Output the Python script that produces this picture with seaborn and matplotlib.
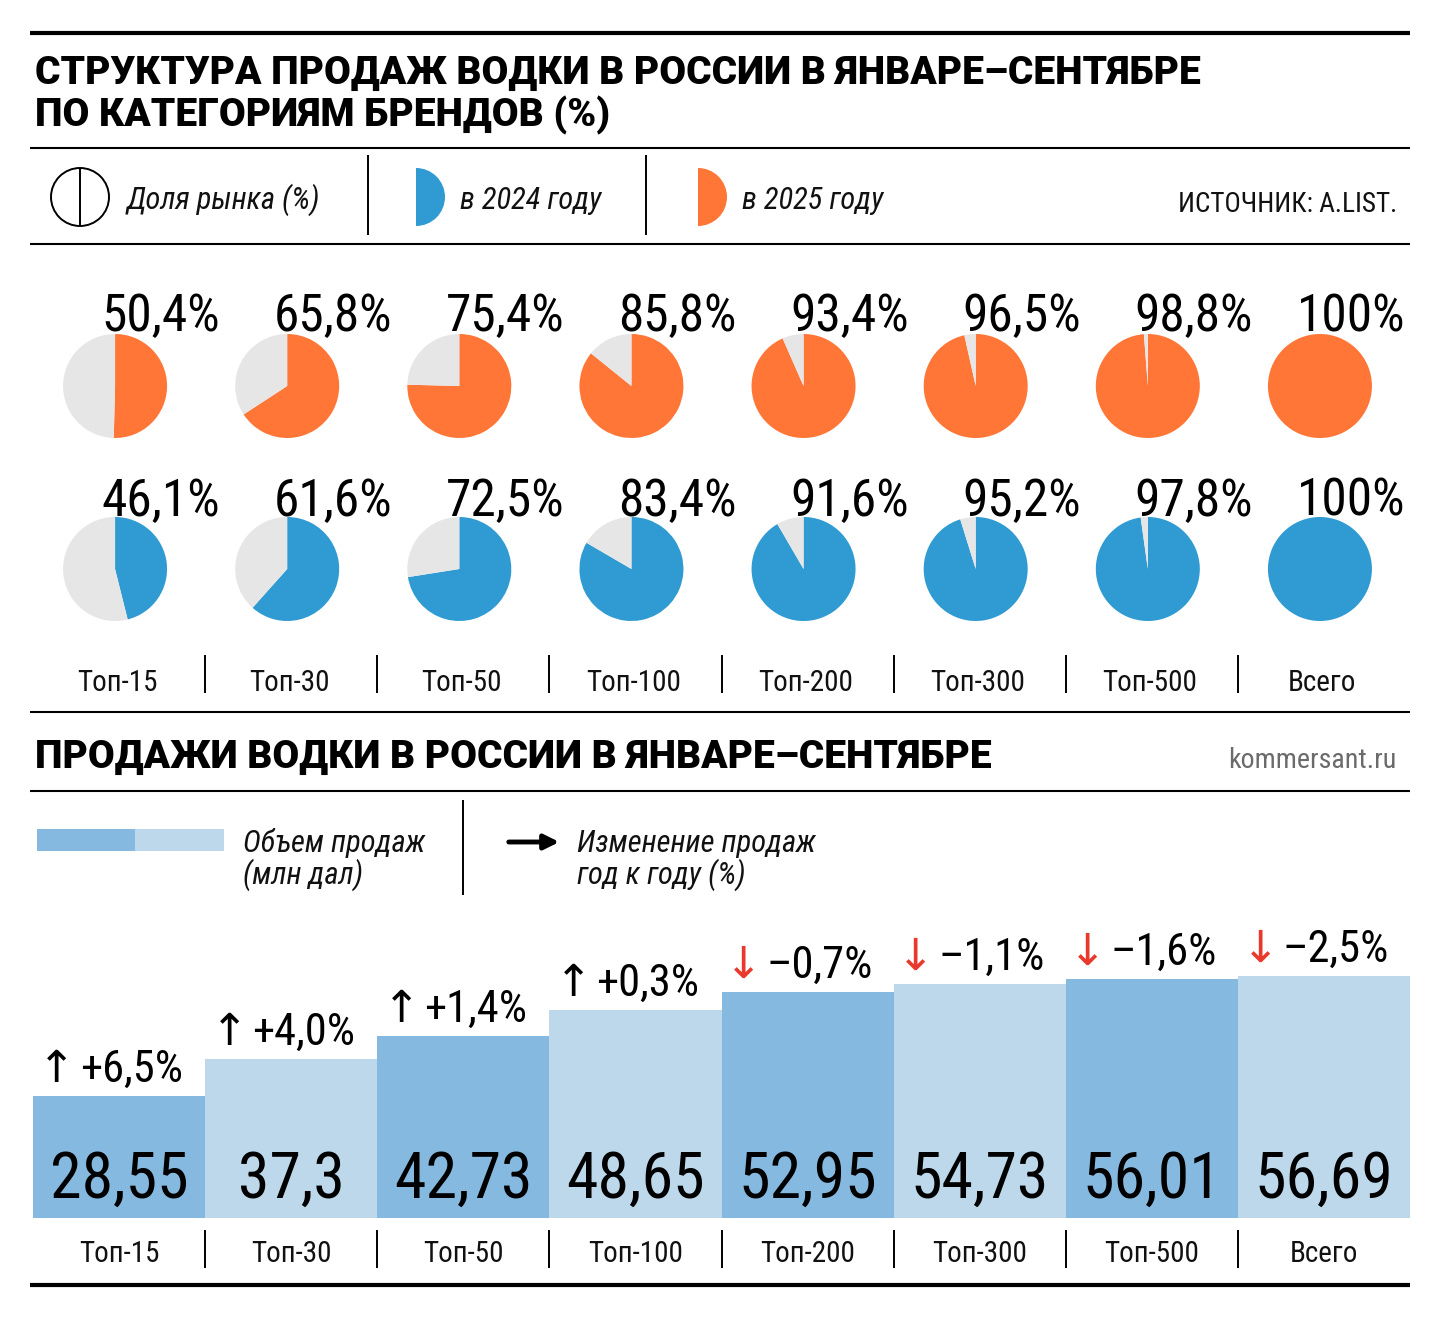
import pandas as pd
import seaborn as sns
import matplotlib.pyplot as plt
from matplotlib import font_manager as fm
from matplotlib.patches import Wedge, Circle, Rectangle

categories = ['Топ-15', 'Топ-30', 'Топ-50', 'Топ-100', 'Топ-200', 'Топ-300', 'Топ-500', 'Всего']
share_2025 = [50.4, 65.8, 75.4, 85.8, 93.4, 96.5, 98.8, 100]
share_2024 = [46.1, 61.6, 72.5, 83.4, 91.6, 95.2, 97.8, 100]
volume = [28.55, 37.3, 42.73, 48.65, 52.95, 54.73, 56.01, 56.69]
change = [6.5, 4.0, 1.4, 0.3, -0.7, -1.1, -1.6, -2.5]

ORANGE = '#ff7636'
BLUE = '#2f9bd2'
GREY = '#e6e6e6'
BAR_DARK = '#85b9e0'
BAR_LIGHT = '#bcd8ea'
RED = '#e8392c'

sns.set_theme(style='white')

names = {f.name for f in fm.fontManager.ttflist}
def pick(*cands):
    for c in cands:
        if c in names:
            return c
    return 'DejaVu Sans'

NARROW = pick('Roboto Condensed', 'Liberation Sans Narrow', 'Open Sans Condensed', 'DejaVu Sans')
HEAVY = pick('Roboto', 'Inter', 'Lato', 'DejaVu Sans')
plt.rcParams['font.family'] = [NARROW, 'DejaVu Sans']
if NARROW == 'DejaVu Sans':
    plt.rcParams['font.stretch'] = 'condensed'

W, H = 1440, 1319
fig = plt.figure(figsize=(W / 100, H / 100), dpi=100)
fig.patch.set_facecolor('white')

# overlay in pixel units (y down) for rules, legends and titles
deco = fig.add_axes([0, 0, 1, 1])
deco.set_xlim(0, W)
deco.set_ylim(H, 0)
deco.axis('off')
deco.set_zorder(5)

def hline(y, lw):
    deco.plot([30, 1410], [y, y], color='black', lw=lw, solid_capstyle='butt')

def vline(x, y0, y1):
    deco.plot([x, x], [y0, y1], color='black', lw=1.4, solid_capstyle='butt')

hline(33, 3.0)
hline(148, 1.5)
hline(244, 1.5)
hline(712, 1.5)
hline(791, 1.5)
hline(1285, 3.0)

heavy = dict(family=[HEAVY, 'DejaVu Sans'], fontweight='black', color='black')
t1 = deco.text(35, 84, 'СТРУКТУРА ПРОДАЖ ВОДКИ В РОССИИ В ЯНВАРЕ–СЕНТЯБРЕ', fontsize=26, va='baseline', **heavy)
t2 = deco.text(35, 126, 'ПО КАТЕГОРИЯМ БРЕНДОВ (%)', fontsize=26, va='baseline', **heavy)
t3 = deco.text(35, 768, 'ПРОДАЖИ ВОДКИ В РОССИИ В ЯНВАРЕ–СЕНТЯБРЕ', fontsize=26, va='baseline', **heavy)

# legend, top block
deco.add_patch(Circle((80, 197), 29, fill=False, lw=1.4, color='black'))
vline(80, 168, 226)
deco.add_patch(Wedge((416, 197), 29, -90, 90, color=BLUE, lw=0))
deco.add_patch(Wedge((698, 197), 29, -90, 90, color=ORANGE, lw=0))
vline(368, 155, 235)
vline(646, 155, 235)
ital = dict(style='italic', fontsize=22, va='baseline', color='#111111')
deco.text(127, 209, 'Доля рынка (%)', **ital)
deco.text(460, 209, 'в 2024 году', **ital)
deco.text(742, 209, 'в 2025 году', **ital)
src = deco.text(1397, 212, 'ИСТОЧНИК: A.LIST.', ha='right', va='baseline', fontsize=20, color='#111111')
kom = deco.text(1397, 768, 'kommersant.ru', ha='right', va='baseline', fontsize=20, color='#6b6b6b')

# legend, bottom block
deco.add_patch(Rectangle((37, 829), 98, 22, color=BAR_DARK, lw=0))
deco.add_patch(Rectangle((135, 829), 89, 22, color=BAR_LIGHT, lw=0))
deco.text(243, 852, 'Объем продаж', **ital)
deco.text(243, 884, '(млн дал)', **ital)
vline(463, 800, 895)
deco.annotate('', xy=(562, 842), xytext=(506, 842),
              arrowprops=dict(arrowstyle='-|>', lw=3.5, color='black', mutation_scale=22))
deco.text(577, 852, 'Изменение продаж', **ital)
deco.text(577, 884, 'год к году (%)', **ital)

# pies
bar_left, bar_right = 33, 1410
step = (bar_right - bar_left) / len(categories)
centers = [bar_left + step * (i + 0.5) - 4 for i in range(len(categories))]
R = 52
for vals, color, cy, ty in [(share_2025, ORANGE, 386, 331), (share_2024, BLUE, 569, 516)]:
    for i, v in enumerate(vals):
        cx = centers[i]
        ax = fig.add_axes([(cx - R) / W, (H - cy - R) / H, 2 * R / W, 2 * R / H])
        ax.pie([v, 100 - v], colors=[color, GREY], startangle=90, counterclock=False,
               wedgeprops=dict(linewidth=0))
        ax.set_xlim(-1, 1)
        ax.set_ylim(-1, 1)
        ax.patch.set_visible(False)
        deco.text(min(cx + 105, 1405), ty, f'{v:g}%'.replace('.', ','), ha='right', va='baseline',
                  fontsize=37, color='black')

for i, c in enumerate(categories):
    deco.text(centers[i] + 2, 691, c, ha='center', va='baseline', fontsize=21, color='#111111')
for k in range(1, len(categories)):
    x = bar_left + step * k
    vline(x, 655, 693)
    vline(x, 1230, 1268)

# bars
px_per_unit = 4.27
bax = fig.add_axes([bar_left / W, (H - 1218) / H, (bar_right - bar_left) / W, 318 / H])
df = pd.DataFrame({'cat': categories, 'vol': volume})
palette = [BAR_DARK if i % 2 == 0 else BAR_LIGHT for i in range(len(categories))]
sns.barplot(data=df, x='cat', y='vol', hue='cat', palette=palette, width=1, saturation=1,
            legend=False, ax=bax, linewidth=0)
bax.set_ylim(0, 318 / px_per_unit)
bax.set_xlim(-0.5, len(categories) - 0.5)
sns.despine(ax=bax, left=True, bottom=True)
bax.set_yticks([])
bax.set_xlabel('')
bax.set_ylabel('')
bax.tick_params(axis='x', length=0, pad=16, labelsize=21, labelcolor='#111111')
bax.patch.set_visible(False)

for i, v in enumerate(volume):
    bax.annotate(f'{v:g}'.replace('.', ','), xy=(i, 0), xytext=(0, 20), textcoords='offset pixels',
                 ha='center', va='baseline', fontsize=46, color='black')

chg_texts = []
for i, (v, c) in enumerate(zip(volume, change)):
    s = f'{c:+.1f}%'.replace('.', ',').replace('-', '–')
    t = bax.annotate(s, xy=(i, v), xytext=(12, 14), textcoords='offset pixels',
                     ha='center', va='baseline', fontsize=32, color='black')
    chg_texts.append(t)

# size titles to the reference width
fig.canvas.draw()
r = fig.canvas.get_renderer()
def fit(t, w):
    bb = t.get_window_extent(r)
    t.set_fontsize(t.get_fontsize() * w / bb.width)

fit(t1, 1165)
t2.set_fontsize(t1.get_fontsize())
t3.set_fontsize(t1.get_fontsize())
fit(src, 219)
fit(kom, 168)

fig.canvas.draw()
for i, (t, c) in enumerate(zip(chg_texts, change)):
    bb = t.get_window_extent(r)
    px = bax.transData.transform((i, volume[i]))[0]
    bax.annotate('↑' if c > 0 else '↓', xy=(i, volume[i]), xytext=(bb.x0 - 4 - px, 14),
                 textcoords='offset pixels', ha='right', va='baseline', fontsize=32,
                 color='black' if c > 0 else RED, family='DejaVu Sans')

fig.savefig('out.png', dpi=100, facecolor='white')
